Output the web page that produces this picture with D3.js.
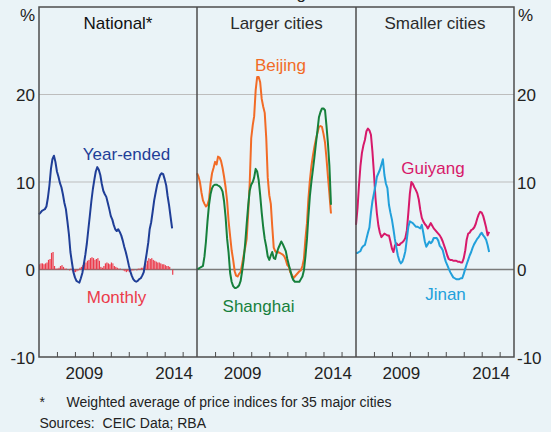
<!DOCTYPE html>
<html>
<head>
<meta charset="utf-8">
<script src="https://cdn.jsdelivr.net/npm/d3@7"></script>
<style>
  body { margin: 0; background: #eaf3f7; }
  svg text { font-family: Arial, "Liberation Sans", sans-serif; }
</style>
</head>
<body>
<svg id="chart" width="551" height="432"></svg>
<script>
// monthly data, first observation Jan 2007
const startMonth = new Date(2007, 0, 1)
const panelTitles = ["National*", "Larger cities", "Smaller cities"]
const yTicks = [-10, 0, 10, 20]
const gridValues = [10, 20]
const yearTicks = [2008, 2009, 2010, 2011, 2012, 2013, 2014, 2015]
const yearLabels = [2009, 2014]

const nationalYearEnded = [6.3, 6.5, 6.7, 6.8, 6.9, 7.2, 8.2, 9.6, 11.5, 12.6,
  13.0, 12.3, 11.2, 10.6, 9.9, 9.4, 8.6, 7.6, 6.9, 5.5,
  4.0, 2.0, 0.8, -0.3, -0.9, -1.3, -1.4, -1.5, -1.0, -0.4,
  0.6, 1.7, 3.0, 4.6, 6.2, 7.8, 9.2, 10.3, 11.2, 11.7,
  11.4, 10.8, 9.8, 9.0, 8.6, 8.3, 7.6, 6.9, 6.1, 5.7,
  5.1, 4.6, 4.4, 4.6, 4.3, 3.9, 3.3, 2.6, 2.0, 1.3,
  0.5, -0.2, -0.7, -1.1, -1.3, -1.4, -1.3, -1.1, -1.0, -0.7,
  -0.3, 0.8, 1.9, 3.1, 4.6, 5.4, 6.6, 7.9, 8.8, 9.7,
  10.3, 10.8, 11.0, 10.9, 10.3, 9.6, 8.4, 7.3, 6.0, 4.7]

const nationalMonthly = [0.6, 0.7, 0.7, 0.6, 0.7, 0.8, 1.1, 1.2, 1.9, 2.0,
  0.4, 0.1, 0.1, 0.2, 0.4, 0.5, 0.3, 0.1, 0.1, 0.0,
  -0.1, 0.1, -0.2, -0.3, -0.3, -0.2, -0.1, 0.2, 0.3, 0.5,
  0.8, 0.8, 1.0, 1.1, 1.3, 1.4, 1.3, 1.1, 1.2, 1.3,
  1.0, 0.3, 0.2, 0.4, 0.7, 0.8, 0.7, 0.6, 0.8, 0.7,
  0.4, 0.3, 0.2, 0.1, 0.1, 0.0, -0.1, -0.2, -0.3, -0.2,
  -0.3, -0.2, -0.1, -0.1, 0.0, -0.1, 0.1, 0.1, 0.2, 0.2,
  0.4, 0.6, 1.0, 1.3, 1.2, 1.3, 1.1, 1.0, 0.9, 0.8,
  0.8, 0.7, 0.6, 0.6, 0.5, 0.4, 0.4, 0.3, 0.0, -0.6]

const beijing = [11.0, 10.6, 10.0, 8.8, 7.9, 7.5, 7.2, 7.4, 8.0, 9.8,
  11.0, 11.6, 12.3, 12.0, 12.9, 12.8, 12.4, 11.6, 10.6, 9.4,
  7.8, 5.5, 3.8, 2.2, 1.1, -0.2, -0.7, -0.8, -0.5, -0.3,
  0.6, 1.6, 2.5, 3.5, 6.5, 9.8, 15.0, 16.5, 17.5, 20.5,
  22.0, 22.0, 21.4, 19.5, 18.6, 17.9, 15.0, 10.5, 8.5, 7.5,
  5.0, 2.5, 2.1, 1.9, 2.0, 1.9, 1.8, 1.7, 1.5, 1.1,
  0.5, 0.3, -0.3, -0.6, -1.0, -0.8, -0.6, -0.4, -0.2, -0.1,
  0.4, 1.2, 3.5, 5.3, 8.0, 10.2, 11.8, 13.0, 14.0, 14.9,
  15.6, 16.3, 16.4, 16.3, 15.5, 14.5, 12.8, 10.6, 8.6, 6.4]

const shanghai = [0.0, 0.1, 0.2, 0.3, 0.4, 1.5, 3.2, 5.5, 7.4, 8.6,
  9.3, 9.6, 9.7, 9.7, 9.6, 9.5, 9.3, 8.9, 7.8, 6.0,
  3.5, 1.9, -0.4, -1.4, -1.9, -2.1, -2.1, -2.0, -1.8, -1.3,
  -0.2, 1.1, 3.0, 5.2, 7.3, 9.0, 9.7, 10.0, 10.5, 11.5,
  11.2, 10.2, 8.5, 6.5, 4.8, 3.5, 2.6, 1.5, 1.1, 1.6,
  2.0, 1.3, 1.2, 1.9, 2.4, 2.8, 3.2, 2.9, 2.5, 2.1,
  1.2, 0.5, -0.1, -0.8, -1.2, -1.4, -1.4, -1.4, -1.4, -1.1,
  -0.8, -0.1, 1.5, 3.5, 6.0, 8.4, 10.0, 11.4, 12.8, 14.4,
  15.9, 17.4, 18.0, 18.4, 18.4, 18.2, 16.5, 14.4, 11.8, 7.4]

const guiyang = [5.1, 7.0, 9.5, 11.8, 13.3, 14.2, 14.8, 15.8, 16.1, 15.9,
  15.4, 13.5, 11.0, 8.2, 6.4, 5.0, 4.2, 3.7, 3.9, 4.1,
  4.0, 3.9, 3.9, 3.2, 2.4, 2.0, 2.7, 3.0, 2.8, 2.8,
  3.0, 3.1, 3.3, 3.6, 4.5, 6.5, 8.7, 10.0, 9.8, 9.4,
  9.1, 8.7, 8.0, 6.8, 5.9, 5.5, 5.2, 5.0, 4.7, 5.0,
  5.3, 5.0, 4.7, 4.5, 4.3, 4.1, 3.9, 3.6, 3.2, 2.7,
  2.2, 1.6, 1.2, 1.1, 1.1, 1.0, 1.0, 1.0, 0.9, 0.9,
  0.8, 0.8, 1.3, 2.2, 3.4, 4.1, 4.2, 4.5, 4.6, 4.8,
  5.2, 5.8, 6.3, 6.6, 6.5, 6.1, 5.5, 4.8, 3.9, 4.3]

const jinan = [1.9, 1.9, 2.0, 2.1, 2.5, 2.7, 2.8, 3.5, 4.2, 4.8,
  6.5, 7.8, 8.7, 9.6, 10.6, 11.0, 11.4, 12.0, 12.6, 10.8,
  9.8, 9.3, 7.4, 6.5, 5.7, 4.6, 3.5, 2.5, 1.6, 1.0,
  0.7, 0.9, 1.4, 2.1, 3.5, 4.9, 5.5, 5.4, 5.3, 5.1,
  4.9, 4.9, 4.8, 4.7, 5.1, 4.2, 3.2, 2.6, 2.9, 3.2,
  3.0, 3.2, 3.6, 3.6, 3.6, 3.3, 2.7, 2.5, 2.2, 1.5,
  0.9, 0.5, 0.1, -0.3, -0.6, -0.9, -1.0, -1.1, -1.1, -1.1,
  -1.0, -1.0, -0.5, 0.1, 0.6, 1.1, 1.6, 2.0, 2.5, 2.9,
  3.2, 3.5, 3.7, 4.0, 4.2, 3.9, 3.7, 3.4, 2.8, 2.0]

const months = d3.timeMonth.range(startMonth, d3.timeMonth.offset(startMonth, nationalYearEnded.length))

const svg = d3.select("#chart")
const plotLeft = 39, plotRight = 514, plotTop = 7, plotBottom = 357
const panelEdges = [39, 197, 356, 514]
const frameColor = "#4d4d4d"

const y = d3.scaleLinear()
  .domain([-10, 30])
  .range([plotBottom, plotTop])

const xScales = panelTitles.map((t, i) => d3.scaleTime()
  .domain([startMonth, new Date(2015, 9, 20)])
  .range([panelEdges[i], panelEdges[i + 1]]))

svg.append("rect")
  .attr("width", 551)
  .attr("height", 432)
  .attr("fill", "#eaf3f7")

// cropped chart subtitle, only its descender shows
svg.append("text")
  .attr("x", 276)
  .attr("y", -1)
  .attr("text-anchor", "middle")
  .attr("font-size", 17)
  .attr("fill", "#222")
  .text("Year-ended growth")

// horizontal grid
svg.selectAll(".grid")
  .data(gridValues)
  .enter().append("line")
    .attr("class", "grid")
    .attr("x1", plotLeft)
    .attr("x2", plotRight)
    .attr("y1", d => y(d))
    .attr("y2", d => y(d))
    .attr("stroke", "#bdbdbd")
    .attr("stroke-width", 1)

svg.append("line")
  .attr("x1", plotLeft)
  .attr("x2", plotRight)
  .attr("y1", y(0))
  .attr("y2", y(0))
  .attr("stroke", "#7a7a7a")
  .attr("stroke-width", 1.5)

// monthly bars, national panel
const x0 = xScales[0]
svg.selectAll(".monthBar")
  .data(nationalMonthly)
  .enter().append("rect")
    .attr("class", "monthBar")
    .attr("x", (d, i) => x0(months[i]))
    .attr("width", (d, i) => Math.max(0.6, x0(d3.timeMonth.offset(months[i], 1)) - x0(months[i]) - 0.3))
    .attr("y", d => y(Math.max(0, d)))
    .attr("height", d => Math.abs(y(d) - y(0)))
    .attr("fill", "#ec3b4b")

const drawLine = (values, xScale, color) => {
  const line = d3.line()
    .x((d, i) => xScale(months[i]))
    .y(d => y(d))
  svg.append("path")
    .datum(values)
    .attr("d", line)
    .attr("fill", "none")
    .attr("stroke", color)
    .attr("stroke-width", 2)
    .attr("stroke-linejoin", "round")
}

drawLine(nationalYearEnded, xScales[0], "#1f3e97")
drawLine(beijing, xScales[1], "#f26b26")
drawLine(shanghai, xScales[1], "#16803c")
drawLine(guiyang, xScales[2], "#d7196a")
drawLine(jinan, xScales[2], "#22a0db")

// frame and panel dividers
svg.append("rect")
  .attr("x", plotLeft)
  .attr("y", plotTop)
  .attr("width", plotRight - plotLeft)
  .attr("height", plotBottom - plotTop)
  .attr("fill", "none")
  .attr("stroke", frameColor)
  .attr("stroke-width", 1.5)

svg.selectAll(".divider")
  .data(panelEdges.slice(1, 3))
  .enter().append("line")
    .attr("class", "divider")
    .attr("x1", d => d)
    .attr("x2", d => d)
    .attr("y1", plotTop)
    .attr("y2", plotBottom)
    .attr("stroke", frameColor)
    .attr("stroke-width", 1.5)

// x axes: year ticks and mid-year labels
xScales.forEach((xs, i) => {
  svg.append("g")
    .attr("transform", "translate(0," + plotBottom + ")")
    .call(d3.axisBottom(xs)
      .tickValues(yearTicks.map(yr => new Date(yr, 0, 1)))
      .tickSize(-5)
      .tickFormat(""))
    .call(g => g.select(".domain").remove())
    .call(g => g.selectAll(".tick line").attr("stroke", frameColor).attr("stroke-width", 1))

  svg.append("g")
    .attr("transform", "translate(0," + plotBottom + ")")
    .call(d3.axisBottom(xs)
      .tickValues(yearLabels.map(yr => new Date(yr, 6, 1)))
      .tickSize(0)
      .tickPadding(10)
      .tickFormat(d3.timeFormat("%Y")))
    .call(g => g.select(".domain").remove())
    .call(g => g.selectAll(".tick text")
      .attr("font-size", 17)
      .attr("font-family", "Arial, 'Liberation Sans', sans-serif")
      .attr("fill", "#222"))

  svg.append("text")
    .attr("x", (panelEdges[i] + panelEdges[i + 1]) / 2)
    .attr("y", 29)
    .attr("text-anchor", "middle")
    .attr("font-size", 17)
    .attr("fill", i === 0 ? "#111" : "#2b2b2b")
    .text(panelTitles[i])
})

// y axes both sides, plain hyphen for negatives
const yAxisStyle = g => {
  g.select(".domain").remove()
  g.selectAll(".tick text")
    .attr("font-size", 17)
    .attr("font-family", "Arial, 'Liberation Sans', sans-serif")
    .attr("fill", "#222")
    .attr("dy", "0.38em")
}

svg.append("g")
  .attr("transform", "translate(" + plotLeft + ",0)")
  .call(d3.axisLeft(y).tickValues(yTicks).tickSize(0).tickPadding(4).tickFormat(d => String(d)))
  .call(yAxisStyle)

svg.append("g")
  .attr("transform", "translate(" + plotRight + ",0)")
  .call(d3.axisRight(y).tickValues(yTicks).tickSize(0).tickPadding(3).tickFormat(d => String(d)))
  .call(yAxisStyle)

svg.append("text")
  .attr("x", 35)
  .attr("y", 20.5)
  .attr("text-anchor", "end")
  .attr("font-size", 17)
  .attr("fill", "#222")
  .text("%")

svg.append("text")
  .attr("x", 518)
  .attr("y", 20.5)
  .attr("font-size", 17)
  .attr("fill", "#222")
  .text("%")

// series labels
const seriesLabels = [
  { text: "Year-ended", x: 126.5, y: 160, color: "#1f3e97" },
  { text: "Monthly", x: 116.5, y: 303, color: "#ec3b4b" },
  { text: "Beijing", x: 280.5, y: 71, color: "#f26b26" },
  { text: "Shanghai", x: 258.5, y: 311.5, color: "#16803c" },
  { text: "Guiyang", x: 433, y: 173.5, color: "#d7196a" },
  { text: "Jinan", x: 445.5, y: 299.5, color: "#22a0db" }
]

svg.selectAll(".seriesLabel")
  .data(seriesLabels)
  .enter().append("text")
    .attr("class", "seriesLabel")
    .attr("x", d => d.x)
    .attr("y", d => d.y)
    .attr("text-anchor", "middle")
    .attr("font-size", 17)
    .attr("fill", d => d.color)
    .text(d => d.text)

// footnotes
svg.append("text")
  .attr("x", 39.5)
  .attr("y", 406.5)
  .attr("font-size", 14)
  .attr("fill", "#222")
  .text("*")

svg.append("text")
  .attr("x", 66.5)
  .attr("y", 406.5)
  .attr("font-size", 14)
  .attr("fill", "#222")
  .text("Weighted average of price indices for 35 major cities")

svg.append("text")
  .attr("x", 39.5)
  .attr("y", 427.5)
  .attr("font-size", 14)
  .attr("fill", "#222")
  .attr("xml:space", "preserve")
  .style("white-space", "pre")
  .text("Sources:  CEIC Data; RBA")
</script>
</body>
</html>
